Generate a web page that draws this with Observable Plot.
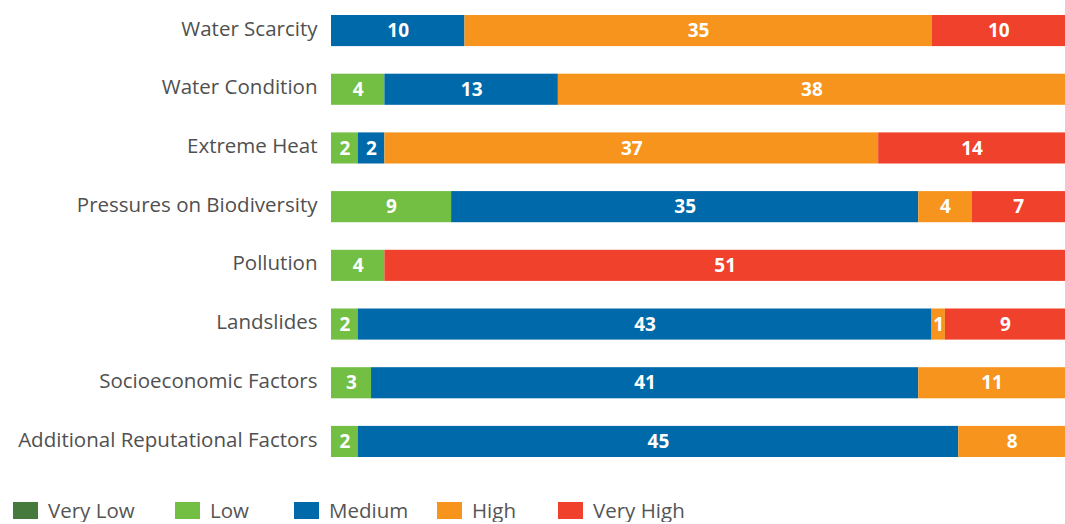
<!DOCTYPE html>
<html>
<head>
<meta charset="utf-8">
<script src="https://cdn.jsdelivr.net/npm/d3@7"></script>
<script src="https://cdn.jsdelivr.net/npm/@observablehq/plot@0.6"></script>
<style>
  body { margin: 0; background: #fff; font-family: "Open Sans", Lato, sans-serif; }
  #chart svg { display: block; }
  .legend { position: relative; height: 24px; margin-top: 38px; font-size: 20.5px; color: #555; }
  .legend .item { position: absolute; top: 0; display: flex; align-items: center; height: 24px; white-space: nowrap; }
  .legend .sw { width: 25px; height: 17px; margin-right: 10px; flex: none; }
</style>
</head>
<body>
<div id="chart"></div>
<script>
const categories = [
  "Water Scarcity",
  "Water Condition",
  "Extreme Heat",
  "Pressures on Biodiversity",
  "Pollution",
  "Landslides",
  "Socioeconomic Factors",
  "Additional Reputational Factors"
];
const levels = ["Very Low", "Low", "Medium", "High", "Very High"];
const colors = ["#467a3c", "#72bf44", "#0069aa", "#f7941d", "#ef412c"];
const veryLow  = [0, 0, 0, 0, 0, 0, 0, 0];
const low      = [0, 4, 2, 9, 4, 2, 3, 2];
const medium   = [10, 13, 2, 35, 0, 43, 41, 45];
const high     = [35, 38, 37, 4, 0, 1, 11, 8];
const veryHigh = [10, 0, 14, 7, 51, 9, 0, 0];
const series = [veryLow, low, medium, high, veryHigh];

const rows = [];
levels.forEach((lev, li) => {
  categories.forEach((cat, ci) => {
    const v = series[li][ci];
    if (v > 0) rows.push({category: cat, level: lev, value: v});
  });
});

const chart = Plot.plot({
  width: 1065,
  height: 460,
  marginLeft: 331,
  marginRight: 0,
  marginTop: 15,
  marginBottom: 3,
  style: {fontFamily: "'Open Sans', Lato, sans-serif", background: "#fff"},
  x: {axis: null, domain: [0, 55]},
  y: {domain: categories, paddingInner: 0.47, paddingOuter: 0, round: false, label: null},
  color: {domain: levels, range: colors},
  marks: [
    Plot.axisY({tickSize: 0, tickPadding: 14, fontSize: 20.5, color: "#505050", label: null, dy: -2}),
    Plot.barX(rows, Plot.stackX({x: "value", y: "category", fill: "level", order: levels})),
    Plot.textX(rows, Plot.stackX({x: "value", y: "category", z: "level", order: levels, text: d => String(d.value), fill: "white", fontSize: 19, fontWeight: "bold"}))
  ]
});
document.getElementById("chart").appendChild(chart);

const legend = document.createElement("div");
legend.className = "legend";
const legendLeft = [13, 175, 294, 437, 558];
levels.forEach((lev, i) => {
  const item = document.createElement("div");
  item.className = "item";
  item.style.left = legendLeft[i] + "px";
  const sw = document.createElement("span");
  sw.className = "sw";
  sw.style.background = colors[i];
  const t = document.createElement("span");
  t.textContent = lev;
  item.appendChild(sw);
  item.appendChild(t);
  legend.appendChild(item);
});
document.body.appendChild(legend);
</script>
</body>
</html>
